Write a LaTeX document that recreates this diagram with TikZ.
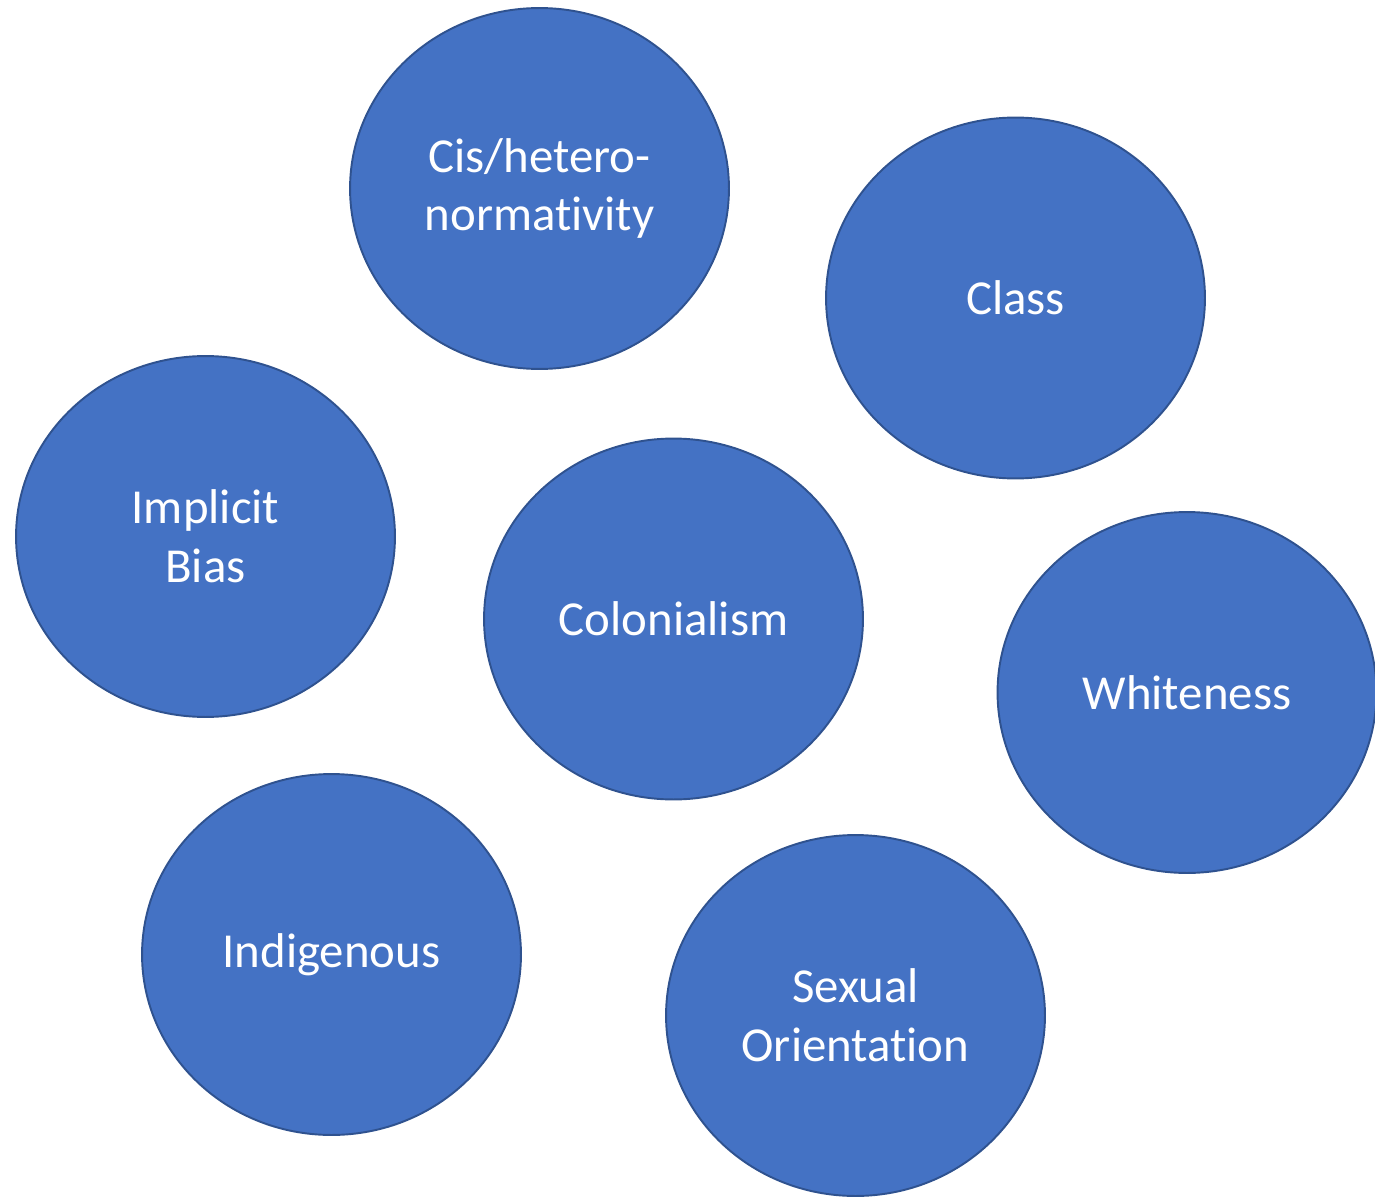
\documentclass[tikz,border=0pt]{standalone}
\usepackage{fontspec}
\setmainfont[Ligatures={NoCommon}]{Carlito}
\usetikzlibrary{shapes.geometric}
\definecolor{bubblefill}{HTML}{4472C4}
\definecolor{bubbleedge}{HTML}{2F528F}
\begin{document}
\begin{tikzpicture}[x=0.02cm,y=-0.02cm,
  bubble/.style={ellipse, draw=bubbleedge, fill=bubblefill, line width=1.1pt,
    minimum width=7.58cm, minimum height=7.22cm, inner sep=0pt,
    text=white, align=center,
    font=\fontsize{27.8}{33.5}\selectfont}]
  \useasboundingbox (0,0) rectangle (1375,1199);
  \clip (0,0) rectangle (1375,1199);
  \node[bubble] (cis)    at (539.5,188.5)  {Cis/hetero-\\normativity};
  \node[bubble] (class)  at (1015.5,298)   {Class};
  \node[bubble] (bias)   at (205.5,536.5)  {Implicit\\Bias};
  \node[bubble] (colon)  at (673.5,619)    {Colonialism};
  \node[bubble] (white)  at (1187,692.5)   {Whiteness};
  \node[bubble] (indig)  at (331.5,954.5)  {Indigenous};
  \node[bubble] (sexual) at (855.5,1015.5) {Sexual\\Orientation};
\end{tikzpicture}
\end{document}
